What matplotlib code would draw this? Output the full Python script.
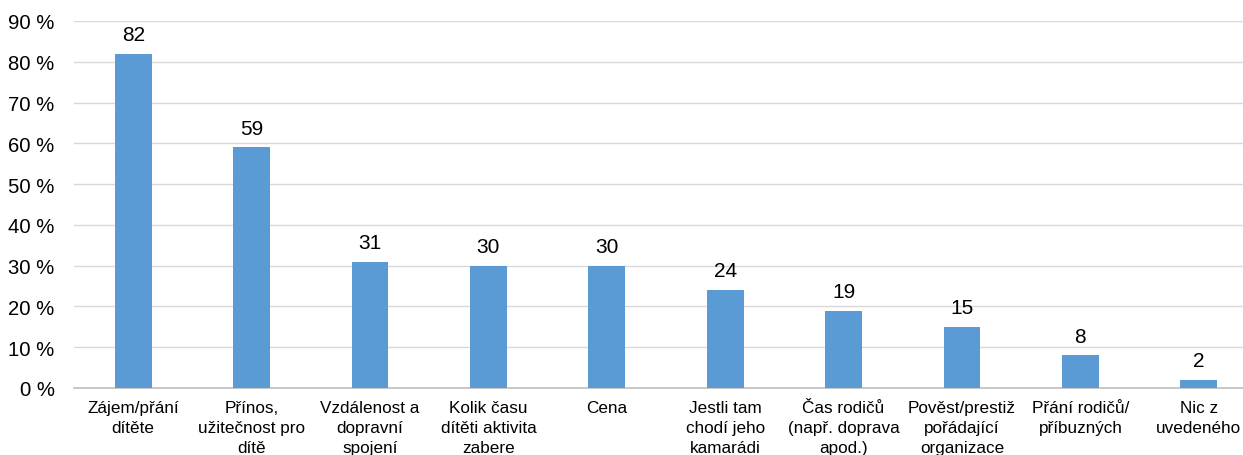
import matplotlib
matplotlib.use("Agg")
import matplotlib.pyplot as plt
from matplotlib.ticker import MultipleLocator, FuncFormatter

plt.rcParams["font.family"] = ["Liberation Sans", "DejaVu Sans"]

categories = [
    "Zájem/přání\ndítěte",
    "Přínos,\nužitečnost pro\ndítě",
    "Vzdálenost a\ndopravní\nspojení",
    "Kolik času\ndítěti aktivita\nzabere",
    "Cena",
    "Jestli tam\nchodí jeho\nkamarádi",
    "Čas rodičů\n(např. doprava\napod.)",
    "Pověst/prestiž\npořádající\norganizace",
    "Přání rodičů/\npříbuzných",
    "Nic z\nuvedeného",
]
values = [82, 59, 31, 30, 30, 24, 19, 15, 8, 2]

BAR = "#5b9bd5"
GRID = "#d9d9d9"

W, H = 1243, 456
fig = plt.figure(figsize=(W / 100, H / 100), dpi=100)
# plot area runs past the right edge (the reference is cropped there)
ax = fig.add_axes([74 / W, (H - 389) / H, (1258 - 74) / W, (389 - 22) / H])

x = range(len(values))
ax.bar(x, values, width=0.31, color=BAR, zorder=3)
for xi, v in zip(x, values):
    ax.text(xi, v + 2.4, f"{v}", ha="center", va="bottom", fontsize=15, color="#000000")

ax.set_xlim(-0.5, len(values) - 0.5)
ax.set_ylim(0, 90)
ax.yaxis.set_major_locator(MultipleLocator(10))
ax.yaxis.set_major_formatter(FuncFormatter(lambda v, p: f"{int(v)} %"))
ax.grid(axis="y", color=GRID, linewidth=1, zorder=0)
ax.set_xticks(list(x))
ax.set_xticklabels(categories, fontsize=12.3, linespacing=1.38, va="top")
ax.tick_params(axis="x", length=0, pad=9)
ax.tick_params(axis="y", length=0, labelsize=14.6, pad=14)
for s in ("top", "right", "left"):
    ax.spines[s].set_visible(False)
ax.spines["bottom"].set_color("#bfbfbf")
ax.spines["bottom"].set_linewidth(1.2)

fig.savefig("out.png", dpi=100)
